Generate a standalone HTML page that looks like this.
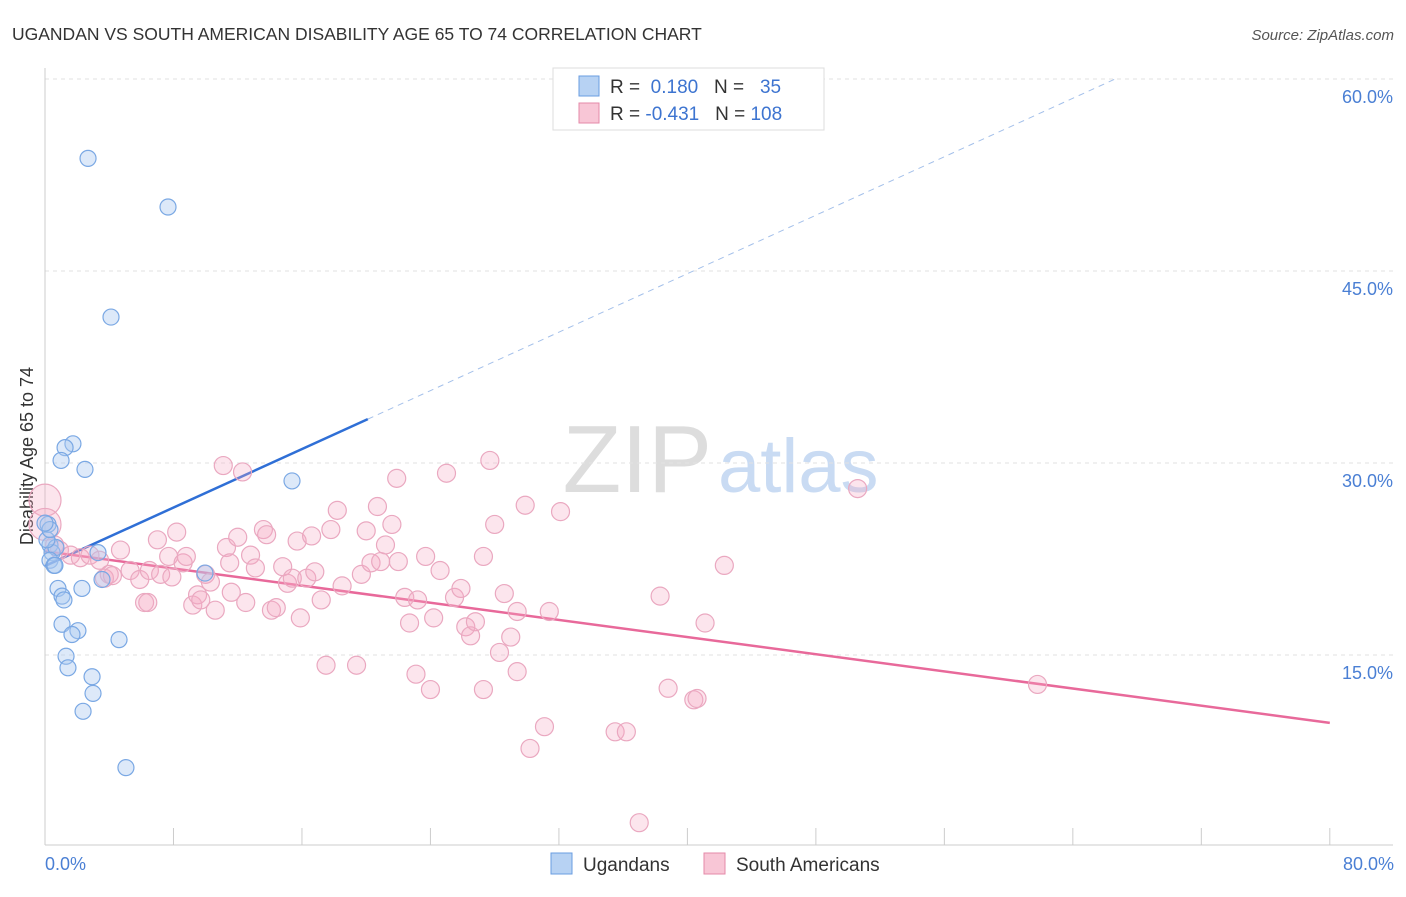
<!DOCTYPE html>
<html><head><meta charset="utf-8"><style>
body{margin:0;background:#fff;font-family:"Liberation Sans",sans-serif;}
svg text{font-family:"Liberation Sans",sans-serif;}
</style></head><body>
<svg width="1406" height="892" viewBox="0 0 1406 892">
<text x="12" y="40" font-size="17.5" fill="#333">UGANDAN VS SOUTH AMERICAN DISABILITY AGE 65 TO 74 CORRELATION CHART</text>
<text x="1394" y="40" font-size="15" fill="#555" text-anchor="end" font-style="italic">Source: ZipAtlas.com</text>
<text x="712" y="492" font-size="96" fill="#ddd" text-anchor="end" font-family="Liberation Serif">ZIP</text>
<text x="718" y="492" font-size="76" fill="#c9dbf3">atlas</text>
<g id="grid"></g>
<g id="axes"></g>
<text transform="translate(33,456) rotate(-90)" font-size="18" fill="#333" text-anchor="middle">Disability Age 65 to 74</text>
<text x="45" y="870" font-size="18" fill="#4a7fd4">0.0%</text>
<text x="1394" y="870" font-size="18" fill="#4a7fd4" text-anchor="end">80.0%</text>
<g id="lines"></g>
<g id="pts"></g>
<g>
<rect x="553" y="68" width="271" height="62" fill="#fff" stroke="#ddd"/>
<rect x="579" y="76" width="20" height="20" fill="#b7d2f3" stroke="#6a9de0"/>
<rect x="579" y="103" width="20" height="20" fill="#f8c6d6" stroke="#e48aa8"/>
<text x="610" y="93" font-size="19" fill="#333">R = <tspan fill="#3d74d0">&#160;0.180</tspan>&#160;&#160;&#160;N = <tspan fill="#3d74d0">&#160;&#160;35</tspan></text>
<text x="610" y="120" font-size="19" fill="#333">R = <tspan fill="#3d74d0">-0.431</tspan>&#160;&#160;&#160;N = <tspan fill="#3d74d0">108</tspan></text>
</g>
<g>
<rect x="551" y="853" width="21" height="21" fill="#b7d2f3" stroke="#6a9de0"/>
<text x="583" y="871" font-size="19" fill="#333">Ugandans</text>
<rect x="704" y="853" width="21" height="21" fill="#f8c6d6" stroke="#e48aa8"/>
<text x="736" y="871" font-size="19" fill="#333">South Americans</text>
</g>
</svg>
<script>
const yTicks=[15,30,45,60];
const blueX=[2.68,7.66,4.11,1.74,1.25,1.0,2.49,15.38,0.19,0.31,0.44,0.68,3.3,0.31,0.56,0.81,2.3,1.06,1.18,3.55,9.96,1.06,2.05,1.68,4.61,1.31,1.43,2.93,2.99,2.37,5.04,0.12,0.31,0.62,0.0];
const blueY=[53.8,50.0,41.4,31.5,31.2,30.2,29.5,28.6,25.2,23.6,23.0,23.4,23.0,22.4,22.0,20.2,20.2,19.6,19.3,20.9,21.4,17.4,16.9,16.6,16.2,14.9,14.0,13.3,12.0,10.6,6.2,24.0,24.8,22.0,25.3];
const pinkX=[0,0,0.6,0.9,1.6,2.2,2.8,3.4,4.0,4.7,3.7,5.3,5.9,6.2,6.5,7.0,7.2,7.7,7.9,8.2,8.6,8.8,9.2,9.5,9.7,10.0,10.3,10.6,11.1,11.3,11.6,12.0,12.3,12.5,12.8,13.1,13.6,13.8,14.1,14.4,14.8,15.1,15.4,15.7,15.9,16.3,16.6,16.8,17.2,17.5,17.8,18.2,18.5,19.4,19.7,20.0,20.3,20.7,20.9,21.2,21.6,22.0,22.4,22.7,23.1,23.2,23.7,24.0,24.2,24.6,25.0,25.5,25.9,26.2,26.5,26.8,27.3,27.3,27.7,28.0,28.3,28.6,29.0,29.4,29.4,29.9,30.2,31.1,31.4,32.1,35.5,36.2,37.0,38.3,38.8,40.4,40.6,41.1,42.3,50.6,61.8,6.4,4.2,11.5,21.9];
const pinkY=[27.1,25.2,23.6,23.2,22.8,22.6,22.8,22.4,21.3,23.2,21.0,21.6,20.9,19.1,21.6,24.0,21.3,22.7,21.1,24.6,22.2,22.7,18.9,19.7,19.3,21.3,20.7,18.5,29.8,23.4,19.9,24.2,29.3,19.1,22.8,21.8,24.8,24.4,18.5,18.7,21.9,20.6,21.0,23.9,17.9,21.0,24.3,21.5,19.3,14.2,24.8,26.3,20.4,14.2,21.3,24.7,22.2,26.6,22.3,23.6,25.2,22.3,19.5,17.5,13.5,19.3,22.7,12.3,17.9,21.6,29.2,19.5,20.2,17.2,16.5,17.6,12.3,22.7,30.2,25.2,15.2,19.8,16.4,13.7,18.4,26.7,7.7,9.4,18.4,26.2,9.0,9.0,1.9,19.6,12.4,11.5,11.6,17.5,22.0,28.0,12.7,19.1,21.2,22.2,28.8];
const blueTrend=[21.95,0.571];   // intercept, slope
const pinkTrend=[23.1,-0.1675];
const X=v=>45+v*16.06, Y=v=>847-v*12.8;
const NS="http://www.w3.org/2000/svg";
function mk(t,a,p){const e=document.createElementNS(NS,t);for(const k in a)e.setAttribute(k,a[k]);p.appendChild(e);return e;}
const grid=document.getElementById('grid');
yTicks.forEach(t=>{
 const l=mk('line',{x1:45,x2:1393,y1:Y(t),y2:Y(t),stroke:'#e2e2e2','stroke-dasharray':'4,4'},grid);
 
 
 const tx=mk('text',{x:1393,y:Y(t)+24,'font-size':18,fill:'#4a7fd4','text-anchor':'end'},grid);
 tx.textContent=t.toFixed(1)+'%';
 
 
});
const ax=document.getElementById('axes');
const yax=mk('line',{x1:45,x2:45,y1:68,y2:845,stroke:'#ccc'},ax);


const xax=mk('line',{x1:45,x2:1393,y1:845,y2:845,stroke:'#ccc'},ax);


for(let i=0;i<=10;i++){const tk=mk('line',{x1:X(i*8),x2:X(i*8),y1:828,y2:845,stroke:'#ccc'},ax);
 
 }
const ln=document.getElementById('lines');
const bf=x=>blueTrend[0]+blueTrend[1]*x, pf=x=>pinkTrend[0]+pinkTrend[1]*x;
const b1=mk('line',{x1:X(0),y1:Y(bf(0)),x2:X(20.1),y2:Y(bf(20.1)),stroke:'#2f6fd6','stroke-width':2.5},ln);


const xe=(60-blueTrend[0])/blueTrend[1];
const b2=mk('line',{x1:X(20.1),y1:Y(bf(20.1)),x2:X(xe),y2:Y(60),stroke:'#a4c0ea','stroke-width':1,'stroke-dasharray':'6,5'},ln);


const p1=mk('line',{x1:X(0),y1:Y(pf(0)),x2:X(80),y2:Y(pf(80)),stroke:'#e8699a','stroke-width':2.5},ln);


const pts=document.getElementById('pts');
pinkX.forEach((x,i)=>{const r=i<2?16:9;
 const c=mk('circle',{cx:X(x),cy:Y(pinkY[i]),r:r,fill:'rgba(244,170,196,0.3)',stroke:'#eaa8c0','stroke-width':1.2},pts);
 
 });
blueX.forEach((x,i)=>{
 const c=mk('circle',{cx:X(x),cy:Y(blueY[i]),r:8,fill:'rgba(170,200,240,0.4)',stroke:'#7aa8e4','stroke-width':1.2},pts);
 
 });
</script>
</body></html>
